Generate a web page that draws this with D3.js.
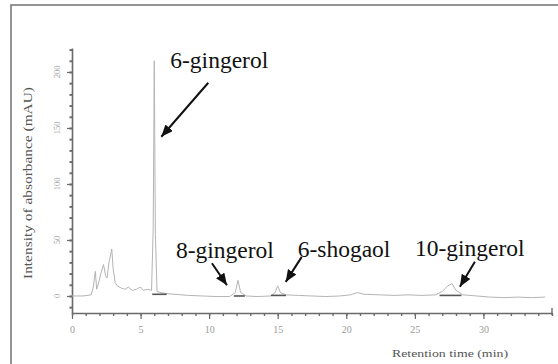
<!DOCTYPE html>
<html>
<head>
<meta charset="utf-8">
<script src="https://cdn.jsdelivr.net/npm/d3@7/dist/d3.min.js"></script>
<style>
  html, body { margin: 0; padding: 0; background: #fff; }
  svg { display: block; }
</style>
</head>
<body>
<svg id="chart" width="558" height="364"></svg>
<script>
// HPLC chromatogram of ginger extract
const retentionTime = [0, 0.8, 1.4, 1.55, 1.7, 1.8, 1.95, 2.1, 2.3, 2.45, 2.55, 2.7, 2.9, 3.0, 3.15, 3.3, 3.6, 3.9, 4.1, 4.4, 4.7, 5.0, 5.2, 5.5, 5.8, 5.92, 6.0, 6.08, 6.2, 6.5, 7.0, 7.5, 8.5, 9.5, 10.5, 11.5, 11.9, 12.1, 12.3, 12.7, 13.5, 14.5, 14.8, 15.0, 15.2, 15.6, 16.5, 17.5, 18.5, 19.5, 20.3, 20.8, 21.3, 22.5, 23.5, 24.5, 25.5, 26.5, 27.0, 27.4, 27.7, 28.0, 28.5, 29.5, 30.5, 31.5, 32.5, 33.5, 34.5];
const absorbance = [0, 0, 1, 8, 22, 6, 12, 20, 28, 18, 16, 30, 42, 24, 12, 9, 7, 6, 8, 5, 6, 8, 5, 6, 5, 60, 210, 55, 4, 3, 2, 1.5, 0.5, 0, -0.5, -0.5, 3, 14, 3, 0, -0.5, 0, 3, 9, 3, 1, 0.5, 0, -0.5, 0, 1, 3, 1.5, 1, 0.5, 1, 0.5, 1, 4, 9, 11, 5, 1, 0, -1, -1.5, -1, -1.5, -1];

// identified compounds
const peakNames = ["6-gingerol", "8-gingerol", "6-shogaol", "10-gingerol"];
const peakTimes = [6.0, 12.1, 15.0, 27.7];
const peakHeights = [210, 14, 9, 11];

// integration baseline segments (start, end, level)
const integStart = [5.85, 11.8, 14.5, 26.8];
const integEnd = [6.9, 12.6, 15.6, 28.4];
const integLevel = [1.5, 0, 0.5, 0.5];

const xTicks = [0, 5, 10, 15, 20, 25, 30];
const yTicks = [0, 50, 100, 150, 200];

// label layout relative to each peak (pixels): text anchor, arrow tail, arrow tip
const labelLayout = [
  { tx: 16, ty: 7, ax: 54, ay: 22, bx: 7, by: 76 },
  { tx: -62, ty: -22, ax: -26, ay: -17, bx: -11, by: 5 },
  { tx: 20, ty: -29, ax: 24, ay: -29, bx: 8, by: -4 },
  { tx: -37, ty: -28, ax: 23, ay: -22, bx: 8, by: 3 }
];

const serif = "'Liberation Serif', 'Times New Roman', Times, serif";
const svg = d3.select("#chart");

// outer frame
svg.append("rect")
  .attr("x", 11).attr("y", 5).attr("width", 570).attr("height", 380)
  .attr("fill", "none").attr("stroke", "#7a7a7a").attr("stroke-width", 1.6);

const x = d3.scaleLinear().domain([0, 35]).range([72, 552]);
const y = d3.scaleLinear().domain([-15.2, 221.4]).range([313, 48]);

const axisColor = "#6a6a6a";
const labelColor = "#9a9a9a";

// x axis: minor ticks each minute, labelled every 5
const xMinor = d3.range(0, 36, 1);
const gx = svg.append("g").attr("transform", `translate(0,${y.range()[0]})`)
  .call(d3.axisBottom(x).tickValues(xMinor).tickSize(3).tickSizeOuter(0).tickFormat(""));
gx.select(".domain").attr("stroke", axisColor).attr("stroke-width", 1.6);
gx.selectAll(".tick line").attr("stroke", axisColor).attr("stroke-width", 1.4);
const gxMajor = svg.append("g").attr("transform", `translate(0,${y.range()[0]})`)
  .call(d3.axisBottom(x).tickValues(xTicks).tickSize(6).tickPadding(7).tickFormat(d3.format("d")));
gxMajor.select(".domain").remove();
gxMajor.selectAll(".tick line").attr("stroke", axisColor).attr("stroke-width", 1.2);
gxMajor.selectAll(".tick text")
  .attr("fill", labelColor).attr("font-family", serif).attr("font-size", 10);
// end tick at 35 rising above the axis
svg.append("line")
  .attr("x1", x(35)).attr("x2", x(35)).attr("y1", y.range()[0] - 5).attr("y2", y.range()[0] + 2)
  .attr("stroke", axisColor).attr("stroke-width", 1.4);

// y axis: minor ticks every 10 mAU, labelled every 50
const yMinor = d3.range(-10, 221, 10);
const gy = svg.append("g").attr("transform", `translate(${x.range()[0]},0)`)
  .call(d3.axisLeft(y).tickValues(yMinor).tickSize(2.5).tickSizeOuter(0).tickFormat(""));
gy.select(".domain").attr("stroke", axisColor).attr("stroke-width", 1.6);
gy.selectAll(".tick line").attr("stroke", axisColor).attr("stroke-width", 2);
const gyMajor = svg.append("g").attr("transform", `translate(${x.range()[0]},0)`)
  .call(d3.axisLeft(y).tickValues(yTicks).tickSize(5).tickFormat(""));
gyMajor.select(".domain").remove();
gyMajor.selectAll(".tick line").attr("stroke", axisColor).attr("stroke-width", 1.2);
svg.append("g").selectAll("text").data(yTicks).join("text")
  .attr("transform", d => `translate(${x.range()[0] - 12},${y(d)}) rotate(-90)`)
  .attr("text-anchor", "middle")
  .attr("fill", labelColor).attr("font-family", serif).attr("font-size", 8.5)
  .text(d => d);

// axis titles
svg.append("text")
  .attr("transform", `translate(32,${183}) rotate(-90)`)
  .attr("text-anchor", "middle")
  .attr("fill", "#555").attr("font-family", serif).attr("font-size", 11.5)
  .attr("textLength", 192).attr("lengthAdjust", "spacingAndGlyphs")
  .text("Intensity of absorbance (mAU)");
svg.append("text")
  .attr("x", 450).attr("y", 357)
  .attr("text-anchor", "middle")
  .attr("fill", "#555").attr("font-family", serif).attr("font-size", 11)
  .attr("textLength", 116).attr("lengthAdjust", "spacingAndGlyphs")
  .text("Retention time (min)");

// chromatogram trace
const trace = retentionTime.map((t, i) => [t, absorbance[i]]);
svg.append("path")
  .datum(trace)
  .attr("fill", "none")
  .attr("stroke", "#b4b4b4")
  .attr("stroke-width", 1)
  .attr("d", d3.line().x(d => x(d[0])).y(d => y(d[1])));

// integration baseline marks
svg.append("g").selectAll("line").data(integStart).join("line")
  .attr("x1", (d, i) => x(d)).attr("x2", (d, i) => x(integEnd[i]))
  .attr("y1", (d, i) => y(integLevel[i])).attr("y2", (d, i) => y(integLevel[i]))
  .attr("stroke", "#555").attr("stroke-width", 1.6);

// arrowhead
svg.append("defs").append("marker")
  .attr("id", "head").attr("markerUnits", "userSpaceOnUse")
  .attr("markerWidth", 13).attr("markerHeight", 11)
  .attr("refX", 12).attr("refY", 5).attr("orient", "auto")
  .append("path").attr("d", "M0,0 L12,5 L0,10 Z").attr("fill", "#111");

// peak annotations
const ann = svg.append("g");
peakNames.forEach((name, i) => {
  const px = x(peakTimes[i]), py = y(peakHeights[i]);
  const L = labelLayout[i];
  ann.append("line")
    .attr("x1", px + L.ax).attr("y1", py + L.ay)
    .attr("x2", px + L.bx).attr("y2", py + L.by)
    .attr("stroke", "#111").attr("stroke-width", 2)
    .attr("marker-end", "url(#head)");
  ann.append("text")
    .attr("x", px + L.tx).attr("y", py + L.ty)
    .attr("fill", "#111").attr("font-family", serif).attr("font-size", 23.5)
    .text(name);
});
</script>
</body>
</html>
